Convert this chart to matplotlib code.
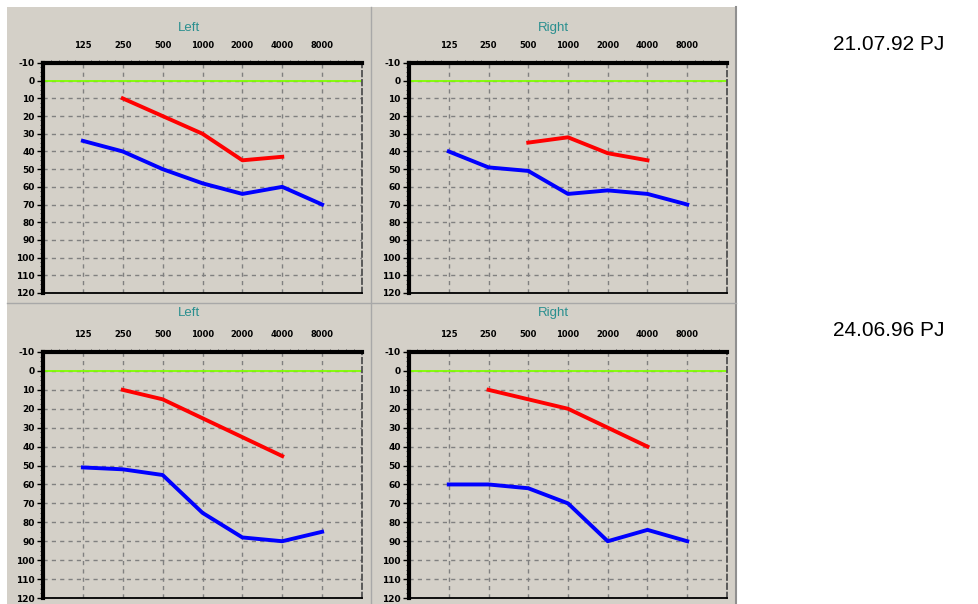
import numpy as np
import matplotlib
matplotlib.use('Agg')
import matplotlib.pyplot as plt
from matplotlib.patches import Rectangle
from matplotlib.lines import Line2D

plt.rcParams['axes.unicode_minus'] = False

# audiogram data (dB HL)
freq_labels = ['125', '250', '500', '1000', '2000', '4000', '8000']
freqs = [125, 250, 500, 1000, 2000, 4000, 8000]
y_ticks = list(range(-10, 121, 10))

# 21.07.92
left92_red_f = [250, 500, 1000, 2000, 4000]
left92_red = [10, 20, 30, 45, 43]
left92_blue_f = [125, 250, 500, 1000, 2000, 4000, 8000]
left92_blue = [34, 40, 50, 58, 64, 60, 70]
right92_red_f = [500, 1000, 2000, 4000]
right92_red = [35, 32, 41, 45]
right92_blue_f = [125, 250, 500, 1000, 2000, 4000, 8000]
right92_blue = [40, 49, 51, 64, 62, 64, 70]

# 24.06.96
left96_red_f = [250, 500, 1000, 2000, 4000]
left96_red = [10, 15, 25, 35, 45]
left96_blue_f = [125, 250, 500, 1000, 2000, 4000, 8000]
left96_blue = [51, 52, 55, 75, 88, 90, 85]
right96_red_f = [250, 500, 1000, 2000, 4000]
right96_red = [10, 15, 20, 30, 40]
right96_blue_f = [125, 250, 500, 1000, 2000, 4000, 8000]
right96_blue = [60, 60, 62, 70, 90, 84, 90]

dates = ['21.07.92 PJ', '24.06.96 PJ']

W, H = 979, 604
bg = '#d4d0c8'
teal = '#2a8f8f'

def pos(f):
    return np.log2(np.array(f) / 125.0) + 1

def box(x0, y0, x1, y1):
    return [x0 / W, 1 - y1 / H, (x1 - x0) / W, (y1 - y0) / H]

fig = plt.figure(figsize=(W / 100, H / 100), dpi=100)
fig.patch.set_facecolor('white')
fig.add_artist(Rectangle((7 / W, 0), 729 / W, 597 / H, transform=fig.transFigure,
                         fc=bg, ec='none', zorder=0))
fig.add_artist(Line2D([736 / W, 736 / W], [0, 1 - 7 / H], transform=fig.transFigure,
                      color='#909090', lw=1.5))
fig.add_artist(Line2D([371 / W, 371 / W], [0, 1 - 7 / H], transform=fig.transFigure,
                      color='#a8a8a8', lw=1))
fig.add_artist(Line2D([7 / W, 736 / W], [1 - 303 / H, 1 - 303 / H], transform=fig.transFigure,
                      color='#a8a8a8', lw=1))

panels = [
    ('Left', box(43, 63, 362, 293), 189, 28, left92_red_f, left92_red, left92_blue_f, left92_blue),
    ('Right', box(409, 63, 727, 293), 553, 28, right92_red_f, right92_red, right92_blue_f, right92_blue),
    ('Left', box(43, 352, 362, 598), 189, 313, left96_red_f, left96_red, left96_blue_f, left96_blue),
    ('Right', box(409, 352, 727, 598), 553, 313, right96_red_f, right96_red, right96_blue_f, right96_blue),
]

for title, rect, tx, ty, rf, rv, bf, bv in panels:
    ax = fig.add_axes(rect)
    ax.set_facecolor(bg)
    ax.set_xlim(0, 8)
    ax.set_ylim(120, -10)
    ax.xaxis.tick_top()
    ax.set_xticks(pos(freqs))
    ax.set_xticklabels(freq_labels)
    ax.set_yticks(y_ticks)
    ax.set_xticks(np.arange(0.2, 8, 0.2), minor=True)
    ax.set_yticks(np.arange(-10, 120, 2.5), minor=True)
    ax.tick_params(axis='x', which='major', length=0, pad=9, labelsize=6)
    ax.tick_params(axis='y', which='major', length=4, width=1, pad=2, labelsize=6.5)
    ax.tick_params(axis='x', which='minor', direction='out', length=2, width=0.6,
                   color='#404040', top=True, bottom=False)
    ax.tick_params(axis='y', which='minor', direction='out', length=2, width=0.6,
                   color='#404040', left=True, right=False)
    for lab in ax.get_xticklabels() + ax.get_yticklabels():
        lab.set_fontweight('bold')
    ax.grid(True, which='major', color='#808080', linestyle=(0, (3, 3)), lw=1)
    ax.axhline(0, color='#80ff00', lw=1.3, zorder=2)
    ax.plot(pos(rf), rv, color='red', lw=2.8, zorder=3)
    ax.plot(pos(bf), bv, color='blue', lw=2.8, zorder=3)
    ax.spines['top'].set_linewidth(3)
    ax.spines['left'].set_linewidth(3)
    ax.spines['bottom'].set_linewidth(1.3)
    ax.spines['right'].set_color('#505050')
    ax.spines['right'].set_linestyle((0, (3, 2)))
    ax.spines['right'].set_linewidth(1.3)
    fig.text(tx / W, 1 - ty / H, title, color=teal, fontsize=9.5,
             ha='center', va='center', family='Liberation Sans')

fig.text(833 / W, 1 - 44 / H, dates[0], fontsize=15, ha='left', va='center',
         family='Liberation Sans')
fig.text(833 / W, 1 - 330 / H, dates[1], fontsize=15, ha='left', va='center',
         family='Liberation Sans')

fig.savefig('out.png', dpi=100)
